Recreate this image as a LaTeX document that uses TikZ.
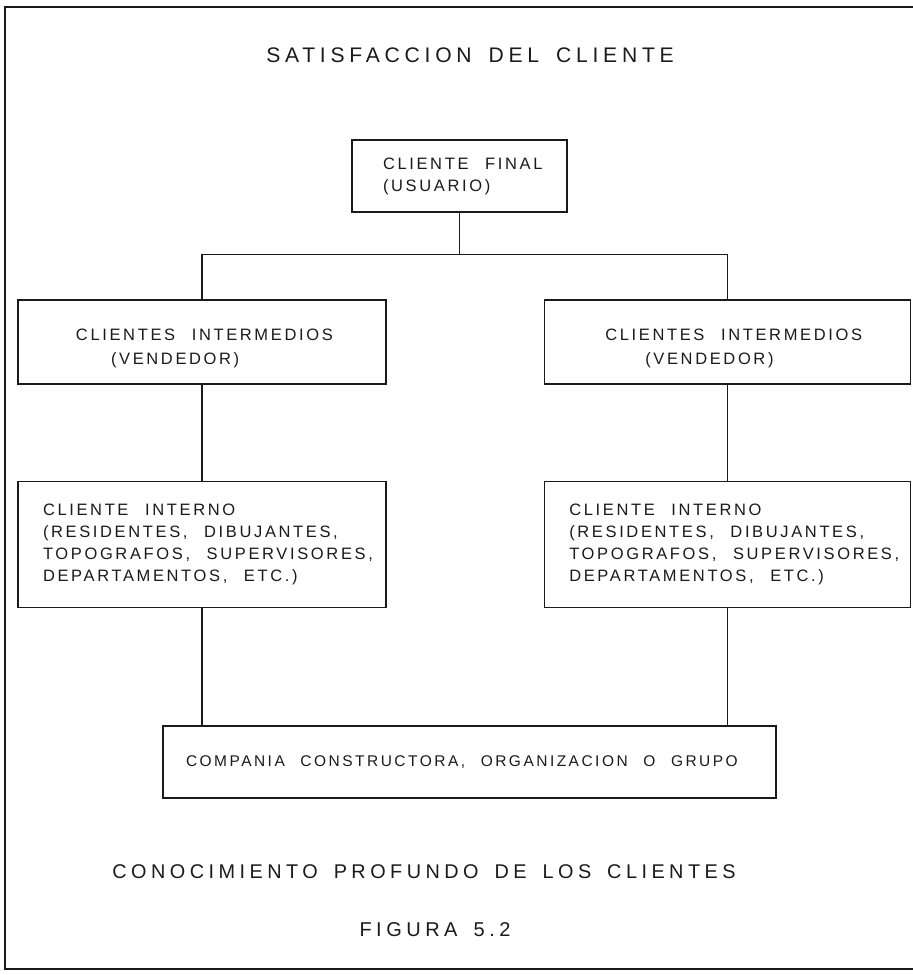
\documentclass[tikz,border=0pt]{standalone}
\usepackage{fontspec}
\setmainfont{Liberation Sans}
\newfontfamily\plotfont[LetterSpace=16, WordSpace=2.3]{Liberation Sans}
\newfontfamily\plotbig[LetterSpace=22.5, WordSpace=1.6]{Liberation Sans}
\usetikzlibrary{positioning}
\definecolor{ink}{HTML}{1A1A1A}
\tikzstyle{frame} = [line width=2.6pt, draw=ink]
\tikzstyle{heading} = [text=ink, font=\plotbig\fontsize{20}{24}\selectfont]
\tikzstyle{box} = [rectangle, draw=ink, line width=1.3pt, inner xsep=0pt, align=flush left, text=ink, font=\plotfont\fontsize{16.5}{22}\selectfont]
\tikzstyle{link} = [line width=1.1pt, draw=ink]
\tikzset{textindent/.style={execute at begin node={\leftskip=#1\relax}}}

\begin{document}
\begin{tikzpicture}[x=1pt, y=-1pt, node distance=157pt]
  \useasboundingbox (0,0) rectangle (913,975);
  \draw [frame] (913,7) -- (5,7) -- (5,969) -- (913,969);
  \node (title) [heading, font=\plotbig\fontsize{21.1}{24}\selectfont] at (470,55) {SATISFACCION DEL CLIENTE};
  \node (final) [box, text width=215pt, textindent=31pt, minimum height=72pt] at (459.5,176) {CLIENTE FINAL\\(USUARIO)};
  \node (interL) [box, text width=368pt, textindent=58pt, minimum height=84pt, font=\plotfont\fontsize{16.5}{24}\selectfont] at (202,342) {\rule{0pt}{24pt}CLIENTES INTERMEDIOS\\\hspace*{35pt}(VENDEDOR)};
  \node (interR) [box, text width=366pt, textindent=61pt, minimum height=84pt, font=\plotfont\fontsize{16.5}{24}\selectfont, right= of interL] {\rule{0pt}{24pt}CLIENTES INTERMEDIOS\\\hspace*{40pt}(VENDEDOR)};
  \node (internoL) [box, text width=368pt, textindent=25pt, minimum height=126pt, below=96pt of interL] {CLIENTE INTERNO\\(RESIDENTES, DIBUJANTES,\\TOPOGRAFOS, SUPERVISORES,\\DEPARTAMENTOS, ETC.)};
  \node (internoR) [box, text width=366pt, textindent=25pt, minimum height=126pt, right= of internoL] {CLIENTE INTERNO\\(RESIDENTES, DIBUJANTES,\\TOPOGRAFOS, SUPERVISORES,\\DEPARTAMENTOS, ETC.)};
  \node (empresa) [box, text width=613pt, textindent=23pt, minimum height=72pt, font=\plotfont\fontsize{15.5}{20}\selectfont] at (469.5,762) {COMPANIA CONSTRUCTORA, ORGANIZACION O GRUPO};
  \draw [link] (final.south) -- ++(0,42) -| (interL.north);
  \draw [link] (final.south) -- ++(0,42) -| (interR.north);
  \draw [link] (interL) -- (internoL);
  \draw [link] (interR) -- (internoR);
  \draw [link] (internoL.south) -- (internoL.south |- empresa.north);
  \draw [link] (internoR.south) -- (internoR.south |- empresa.north);
  \node (conoc) [heading, font=\plotbig\fontsize{19.85}{24}\selectfont] at (424,872) {CONOCIMIENTO PROFUNDO DE LOS CLIENTES};
  \node (figura) [heading, below=36pt of conoc, xshift=11pt] {FIGURA 5.2};
\end{tikzpicture}
\end{document}
